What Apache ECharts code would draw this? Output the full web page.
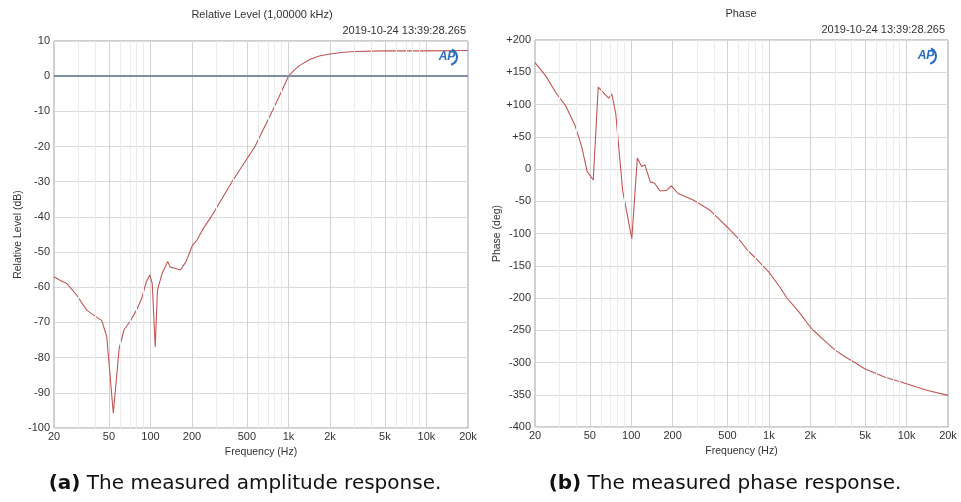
<!DOCTYPE html>
<html><head><meta charset="utf-8">
<script src="https://cdn.jsdelivr.net/npm/echarts@6/dist/echarts.min.js"></script>
<style>html,body{margin:0;padding:0;background:#fff}#c{width:961px;height:502px}</style>
</head><body><div id="c"></div>
<script>
// ---- data ----
const ampFreq = [20, 22.1, 24.7, 29.2, 34.5, 39.6, 44.3, 48.2, 53.8, 59.3, 64.4, 71, 79.2, 86.4, 93.3, 99, 103, 108.3, 112.4, 121.6, 133.4, 138.6, 150, 165, 181, 202, 218, 238, 275, 390, 572, 762, 880, 1000, 1100, 1200, 1450, 1700, 2000, 2500, 3000, 5000, 10000, 20000];
const ampDb   = [-57, -58, -58.9, -62.2, -66.5, -68.2, -69.4, -74, -95.8, -77.4, -72, -69.8, -66.5, -63.2, -58.4, -56.5, -58.9, -77, -60.8, -56, -52.7, -54.2, -54.6, -55.1, -52.7, -48, -46.5, -43.7, -40, -30, -20, -10, -4.8, 0, 1.7, 3, 4.9, 5.8, 6.3, 6.8, 7.0, 7.2, 7.2, 7.3];
const phaseFreq = [20, 24, 28.6, 33.6, 39, 43.6, 47.9, 53, 57.6, 68.5, 72.3, 77.2, 86.6, 101, 110.8, 119, 125.8, 137.6, 148, 162, 181, 196, 219, 282, 374, 515, 600, 700, 800, 1000, 1200, 1350, 1500, 1700, 2000, 2100, 2500, 3000, 3500, 4200, 5000, 7000, 10000, 14000, 20000];
const phaseDeg  = [165, 144, 117, 97, 68, 35, -4, -17, 127, 110, 116, 86, -33, -108, 17, 4, 6, -20, -22, -34, -33, -26, -38, -48, -64, -93, -108, -126, -138, -160, -183, -200, -211, -225, -245, -250, -265, -280, -290, -300, -310, -323, -333, -343, -351];
const xTickFreqs  = [20, 50, 100, 200, 500, 1000, 2000, 5000, 10000, 20000];
const xTickLabels = ['20', '50', '100', '200', '500', '1k', '2k', '5k', '10k', '20k'];
const minorFreqs  = [30, 40, 60, 70, 80, 90, 300, 400, 600, 700, 800, 900, 3000, 4000, 6000, 7000, 8000, 9000];
const ampTitle = 'Relative Level (1,00000 kHz)';
const phaseTitle = 'Phase';
const stamp = '2019-10-24 13:39:28.265';
const captionA = ['(a)', ' The measured amplitude response.'];
const captionB = ['(b)', ' The measured phase response.'];

const lg = Math.log10;
const FONT = 'Liberation Sans';
const txt = '#333';
function xLabel(v) {
  for (let i = 0; i < xTickFreqs.length; i++) if (Math.abs(lg(xTickFreqs[i]) - v) < 1e-6) return xTickLabels[i];
  return '';
}
function xAxisFor(gi) {
  return {
    type: 'value', gridIndex: gi, min: lg(20), max: lg(20000),
    name: 'Frequency (Hz)', nameLocation: 'middle', nameGap: 15,
    nameTextStyle: {color: txt, fontSize: 10.5, fontFamily: FONT},
    axisLine: {show: false},
    axisTick: {show: false, customValues: xTickFreqs.map(lg)},
    axisLabel: {customValues: xTickFreqs.map(lg), formatter: xLabel, margin: 3, color: txt, fontSize: 11, fontFamily: FONT},
    splitLine: {show: true, lineStyle: {color: '#d2d2d2', width: 1}}
  };
}
function yAxisFor(gi, min, max, step, name, plus) {
  return {
    type: 'value', gridIndex: gi, min: min, max: max, interval: step,
    name: name, nameLocation: 'middle', nameGap: plus ? 32 : 29, nameRotate: 90,
    nameTextStyle: {color: txt, fontSize: 10.5, fontFamily: FONT},
    axisLine: {show: false}, axisTick: {show: false},
    axisLabel: {margin: 4, color: txt, fontSize: 11, fontFamily: FONT,
      formatter: v => (plus && v > 0 ? '+' + v : String(v))},
    splitLine: {show: true, lineStyle: {color: '#dadada', width: 1}}
  };
}
function minorSeries(gi, extra) {
  const d = minorFreqs.map(f => ({xAxis: lg(f)}));
  return {
    type: 'line', xAxisIndex: gi, yAxisIndex: gi, data: [], z: 1, silent: true,
    markLine: {silent: true, symbol: 'none', animation: false, label: {show: false},
      lineStyle: {color: '#ececec', type: 'solid', width: 1}, data: d.concat(extra || [])}
  };
}
function curve(gi, fr, vals) {
  return {
    type: 'line', xAxisIndex: gi, yAxisIndex: gi, z: 3, symbol: 'none', showSymbol: false,
    lineStyle: {color: '#c25555', width: 1.1},
    data: fr.map((f, i) => [lg(f), vals[i]])
  };
}
function logo(cx, cy) {
  return [
    {type: 'arc', shape: {cx: cx + 1, cy: cy, r: 8, startAngle: -1.2, endAngle: 1.3},
     style: {stroke: '#2a6cc0', lineWidth: 2, fill: null}, z: 10},
    {type: 'text', x: cx - 1, y: cy, z: 10,
     style: {text: 'AP', fill: '#2a6cc0', font: 'italic bold 12px ' + FONT, textAlign: 'center', textVerticalAlign: 'middle'}}
  ];
}
function caption(cx, cy, parts) {
  return {type: 'text', x: cx, y: cy, z: 10,
    style: {text: '{b|' + parts[0] + '}{n|' + parts[1] + '}', textAlign: 'center', textVerticalAlign: 'middle',
      rich: {b: {fontWeight: 'bold', fontSize: 20, fontFamily: 'DejaVu Sans', fill: '#111'},
             n: {fontSize: 20, fontFamily: 'DejaVu Sans', fill: '#111'}}}};
}
function t(x, y, s, align) {
  return {type: 'text', x: x, y: y, z: 10,
    style: {text: s, fill: txt, font: '11px ' + FONT, textAlign: align, textVerticalAlign: 'middle'}};
}

const chart = echarts.init(document.getElementById('c'), null, {renderer: 'canvas'});
chart.setOption({
  animation: false,
  backgroundColor: '#fff',
  grid: [
    {left: 54, top: 41, width: 414, height: 387, show: true, borderColor: '#9c9c9c', borderWidth: 1, backgroundColor: 'transparent'},
    {left: 535, top: 40, width: 413, height: 387, show: true, borderColor: '#9c9c9c', borderWidth: 1, backgroundColor: 'transparent'}
  ],
  xAxis: [xAxisFor(0), xAxisFor(1)],
  yAxis: [yAxisFor(0, -100, 10, 10, 'Relative Level (dB)', false), yAxisFor(1, -400, 200, 50, 'Phase (deg)', true)],
  series: [
    minorSeries(0, [{yAxis: 0, lineStyle: {color: '#7e8ea4', width: 2, type: 'solid'}}]),
    curve(0, ampFreq, ampDb),
    minorSeries(1),
    curve(1, phaseFreq, phaseDeg)
  ],
  graphic: [
    t(262, 15, ampTitle, 'center'),
    t(466, 31, stamp, 'right'),
    t(741, 14, phaseTitle, 'center'),
    t(945, 30, stamp, 'right'),
    caption(245, 484, captionA),
    caption(725, 484, captionB)
  ].concat(logo(448, 57), logo(927, 56))
});
</script></body></html>
